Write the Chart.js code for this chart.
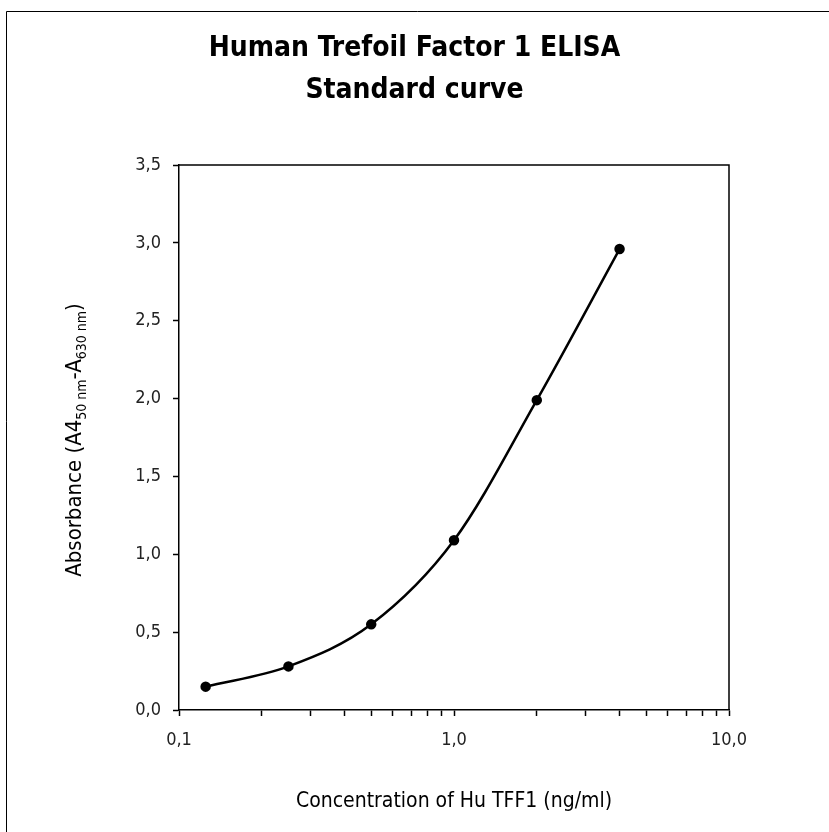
<!DOCTYPE html>
<html>
<head>
<meta charset="utf-8">
<script src="https://cdn.jsdelivr.net/npm/chart.js@4"></script>
<style>
  body { margin: 0; background: #fff; }
  #wrap { width: 829px; height: 832px; }
</style>
</head>
<body>
<div id="wrap"><canvas id="chart1"></canvas></div>
<script>
// standard curve values
const concentrations = [0.125, 0.25, 0.5, 1, 2, 4];
const absorbance = [0.15, 0.28, 0.55, 1.09, 1.99, 2.96];
const xLabels = ['0,1', '1,0', '10,0'];
const xLabelValues = [0.1, 1, 10];

const FONT = '"DejaVu Sans Condensed", "Liberation Sans Narrow", "Liberation Sans", sans-serif';

// frame around the picture + box around the plot + y title with subscripts
const extras = {
  id: 'extras',
  afterDraw(chart) {
    const ctx = chart.ctx;
    const a = chart.chartArea;
    ctx.save();
    ctx.strokeStyle = '#000';
    ctx.lineWidth = 1;
    ctx.beginPath();
    ctx.moveTo(6.5, 832);
    ctx.lineTo(6.5, 11.5);
    ctx.lineTo(829, 11.5);
    ctx.stroke();
    ctx.lineWidth = 1.5;
    ctx.beginPath();
    ctx.moveTo(a.left, a.top);
    ctx.lineTo(a.right, a.top);
    ctx.lineTo(a.right, a.bottom);
    ctx.stroke();

    // y axis title
    const parts = [
      ['Absorbance (A4', 22, 0],
      ['50 nm', 14, 5],
      ['-A', 22, 0],
      ['630 nm', 14, 5],
      [')', 22, 0]
    ];
    ctx.fillStyle = '#000';
    ctx.textBaseline = 'alphabetic';
    let total = 0;
    parts.forEach(p => { ctx.font = p[1] + 'px ' + FONT; total += ctx.measureText(p[0]).width; });
    ctx.translate(81, 440);
    ctx.rotate(-Math.PI / 2);
    let x = -total / 2;
    parts.forEach(p => {
      ctx.font = p[1] + 'px ' + FONT;
      ctx.fillText(p[0], x, p[2]);
      x += ctx.measureText(p[0]).width;
    });
    ctx.restore();
  }
};

const data1 = {
  datasets: [{
    label: 'Standard curve',
    data: concentrations.map((c, i) => ({ x: c, y: absorbance[i] })),
    borderColor: '#000',
    backgroundColor: '#000',
    borderWidth: 2.5,
    pointRadius: 4,
    pointHoverRadius: 4,
    cubicInterpolationMode: 'monotone',
    fill: false
  }]
};

const config1 = {
  type: 'line',
  data: data1,
  options: {
    responsive: true,
    maintainAspectRatio: false,
    animation: false,
    layout: { padding: 0 },
    plugins: {
      legend: { display: false },
      tooltip: { enabled: false },
      title: {
        display: true,
        text: ['Human Trefoil Factor 1 ELISA', 'Standard curve'],
        color: '#000',
        font: { family: FONT, size: 28, weight: 'bold', lineHeight: 1.5 },
        padding: { top: 28, bottom: 53 }
      }
    },
    scales: {
      x: {
        type: 'logarithmic',
        min: 0.1,
        max: 10,
        grid: { drawOnChartArea: false, color: '#000', tickLength: 6, tickWidth: 1.5 },
        border: { color: '#000', width: 1.5 },
        afterBuildTicks(scale) {
          const t = [];
          for (let e = -1; e <= 0; e++) {
            for (let s = 1; s <= 9; s++) t.push({ value: s * Math.pow(10, e) });
          }
          t.push({ value: 10 });
          scale.ticks = t;
        },
        ticks: {
          autoSkip: false,
          maxRotation: 0,
          color: '#222',
          font: { family: FONT, size: 18 },
          padding: 14,
          callback(v) {
            const k = xLabelValues.findIndex(q => Math.abs(q - v) < 1e-9);
            return k >= 0 ? xLabels[k] : '';
          }
        },
        title: {
          display: true,
          text: 'Concentration of Hu TFF1 (ng/ml)',
          color: '#000',
          font: { family: FONT, size: 21 },
          padding: { top: 22, bottom: 18 }
        },
        afterFit(scale) { scale.height = 122; }
      },
      y: {
        min: 0,
        max: 3.5,
        grid: { drawOnChartArea: false, color: '#000', tickLength: 6, tickWidth: 1.5 },
        border: { color: '#000', width: 1.5 },
        ticks: {
          stepSize: 0.5,
          color: '#222',
          font: { family: FONT, size: 18 },
          padding: 12,
          callback(v) { return v.toFixed(1).replace('.', ','); }
        },
        afterFit(scale) { scale.width = 179; }
      },
      // empty right-hand spacer so the plot ends at the reference position
      yRight: {
        position: 'right',
        min: 0,
        max: 3.5,
        grid: { display: false },
        border: { display: false },
        ticks: { display: false },
        afterFit(scale) { scale.width = 100; }
      }
    }
  },
  plugins: [extras]
};

const chart1 = new Chart(document.getElementById('chart1').getContext('2d'), config1);
</script>
</body>
</html>
